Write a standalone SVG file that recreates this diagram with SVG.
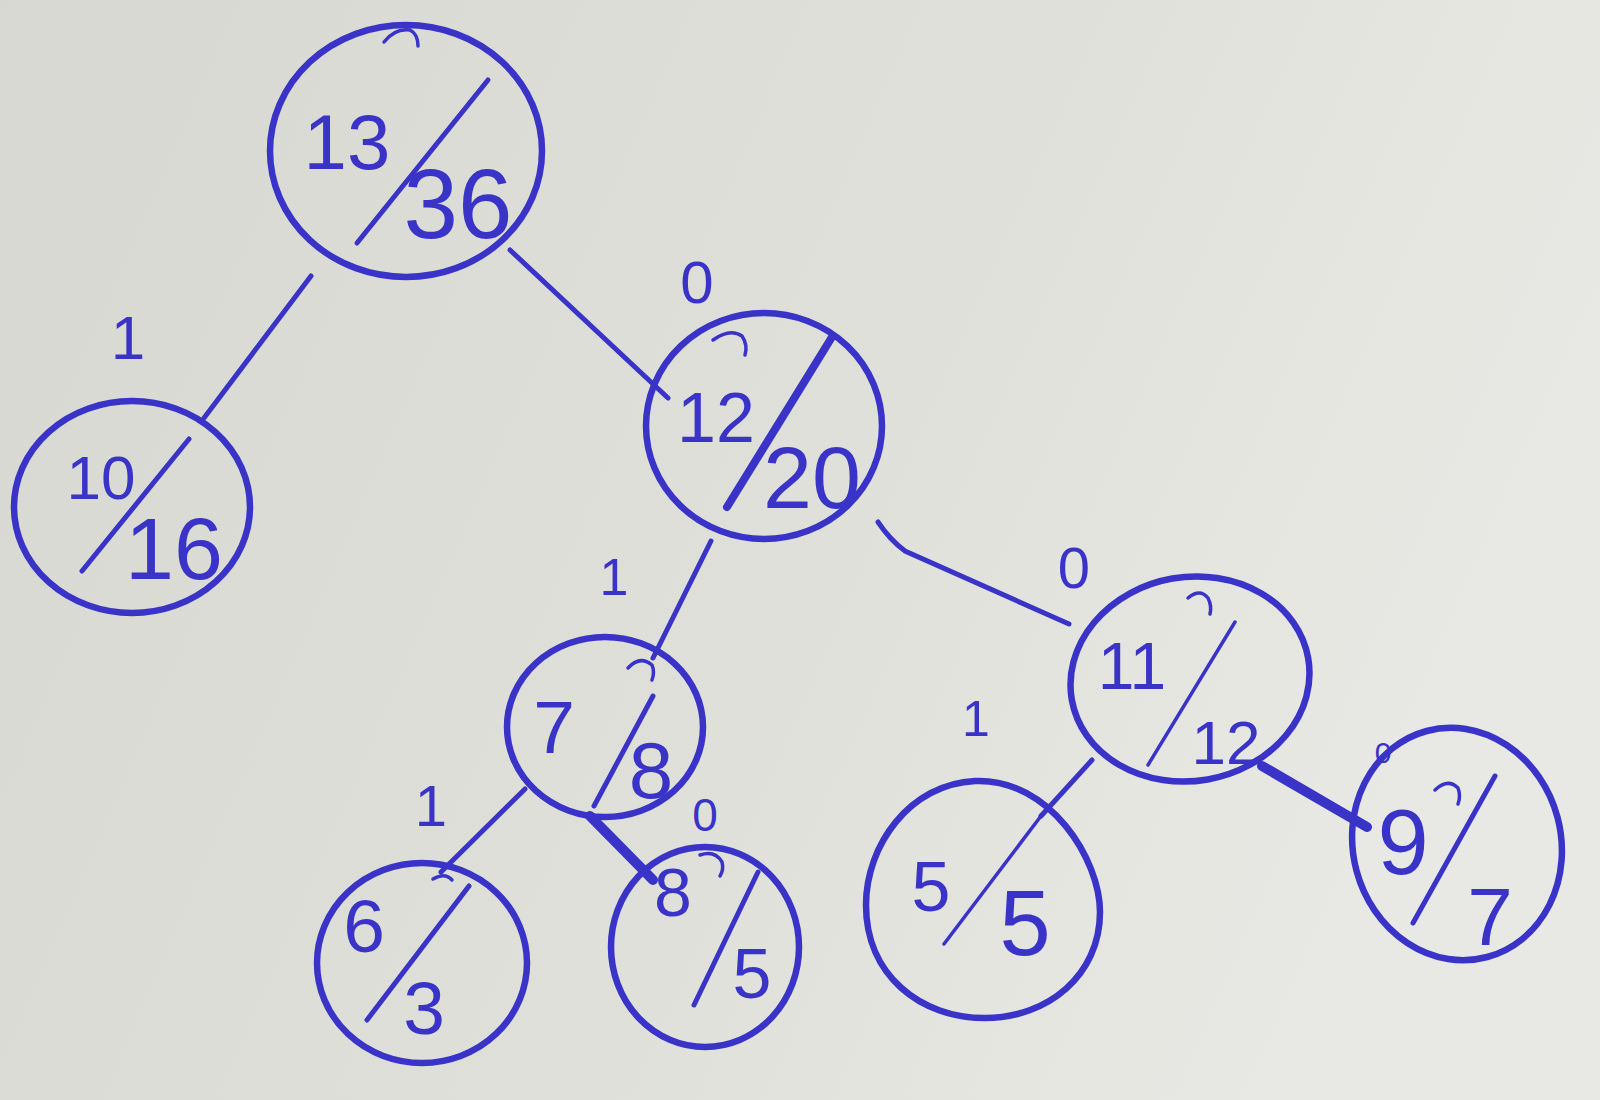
<svg xmlns="http://www.w3.org/2000/svg" width="1600" height="1100" viewBox="0 0 1600 1100">
<defs>
<linearGradient id="bg" x1="0" y1="0" x2="1" y2="0.3">
<stop offset="0" stop-color="#d8d8d2"/>
<stop offset="0.6" stop-color="#e0e0db"/>
<stop offset="1" stop-color="#e8e8e4"/>
</linearGradient>
<style>
.ring{fill:none;stroke:#3a33c8;stroke-width:6.5}
.ink{fill:none;stroke:#3a33c8;stroke-width:5;stroke-linecap:round}
.thin{fill:none;stroke:#3a33c8;stroke-width:3.5;stroke-linecap:round}
.edge{fill:none;stroke:#3a33c8;stroke-width:5;stroke-linecap:round}
.thick{fill:none;stroke:#3a33c8;stroke-width:10;stroke-linecap:round}
text{font-family:"Liberation Sans","DejaVu Sans",sans-serif;fill:#3a33c8;text-anchor:middle;dominant-baseline:central}
</style>
</defs>
<rect width="1600" height="1100" fill="url(#bg)"/>

<g id="connectors">
<path class="edge" d="M311,276 L204,418"/>
<path class="edge" d="M510,250 L668,398"/>
<path class="edge" d="M711,541 L653,658"/>
<path class="edge" d="M878,522 Q890,540 905,551 L1069,624"/>
<path class="edge" d="M525,789 L441,872"/>
<path class="edge" d="M1092,760 L1041,816"/>
<path class="thick" d="M590,816 L653,880"/>
<path class="thick" d="M1262,766 L1367,827"/>
</g>

<g id="edge-labels">
<text x="128" y="337" font-size="62">1</text>
<text x="697" y="282" font-size="60">0</text>
<text x="614" y="577" font-size="52">1</text>
<text x="1074" y="567" font-size="58">0</text>
<text x="976" y="719" font-size="50">1</text>
<text x="431" y="805" font-size="58">1</text>
<text x="705" y="815" font-size="46">0</text>
<text x="1383" y="752" font-size="30">0</text>
</g>

<g id="node-13-36">
<ellipse class="ring" cx="406" cy="151" rx="136" ry="126"/>
<path class="thin" d="M384,42 Q395,28 410,30 Q418,34 418,46"/>
<path class="ink" d="M488,80 L357,243"/>
<text x="347" y="142" font-size="78">13</text>
<text x="458" y="204" font-size="98">36</text>
</g>

<g id="node-10-16">
<ellipse class="ring" cx="132" cy="507" rx="118" ry="106"/>
<path class="ink" d="M189,439 L82,571"/>
<text x="101" y="477" font-size="62">10</text>
<text x="174" y="548" font-size="88">16</text>
</g>

<g id="node-12-20">
<ellipse class="ring" cx="764" cy="426" rx="118" ry="113"/>
<path class="thin" d="M713,340 Q730,328 742,336 Q748,345 745,355"/>
<path class="ink" style="stroke-width:8" d="M832,337 L727,507"/>
<text x="716" y="418" font-size="70">12</text>
<text x="812" y="477" font-size="88">20</text>
</g>

<g id="node-7-8">
<ellipse class="ring" cx="605" cy="727" rx="98" ry="90"/>
<path class="thin" d="M628,668 Q640,655 652,665 Q655,672 652,680"/>
<path class="ink" d="M653,696 L594,806"/>
<text x="554" y="727" font-size="75">7</text>
<text x="651" y="770" font-size="80">8</text>
</g>

<g id="node-11-12">
<ellipse class="ring" cx="1190" cy="679" rx="120" ry="102" transform="rotate(-10 1190 679)"/>
<path class="thin" d="M1188,598 Q1200,588 1208,598 Q1212,606 1210,614"/>
<path class="thin" d="M1235,622 L1148,765"/>
<text x="1132" y="666" font-size="66">11</text>
<text x="1226" y="742" font-size="62">12</text>
</g>

<g id="node-6-3">
<ellipse class="ring" cx="422" cy="963" rx="105" ry="100"/>
<path class="thin" d="M433,879 Q445,872 452,880"/>
<path class="ink" d="M469,886 L367,1020"/>
<text x="364" y="926" font-size="75">6</text>
<text x="424" y="1008" font-size="75">3</text>
</g>

<g id="node-8-5">
<ellipse class="ring" cx="705" cy="947" rx="94" ry="100"/>
<path class="thin" d="M700,855 Q715,850 722,862 Q724,870 720,876"/>
<path class="ink" d="M758,872 L694,1005"/>
<text x="673" y="892" font-size="68">8</text>
<text x="752" y="974" font-size="70">5</text>
</g>

<g id="node-5-5">
<path class="ring" d="M975,781 C1050,778 1100,860 1100,912 C1100,975 1048,1018 985,1018 C920,1018 866,975 866,905 C866,845 910,784 975,781 Z"/>
<path class="thin" d="M1041,816 L944,944"/>
<text x="931" y="887" font-size="70">5</text>
<text x="1025" y="923" font-size="92">5</text>
</g>

<g id="node-9-7">
<ellipse class="ring" cx="1457" cy="844" rx="104" ry="117" transform="rotate(-15 1457 844)"/>
<path class="thin" d="M1435,790 Q1448,778 1458,788 Q1461,796 1458,804"/>
<path class="ink" d="M1495,776 L1413,923"/>
<text x="1403" y="842" font-size="92">9</text>
<text x="1490" y="916" font-size="82">7</text>
</g>
</svg>
